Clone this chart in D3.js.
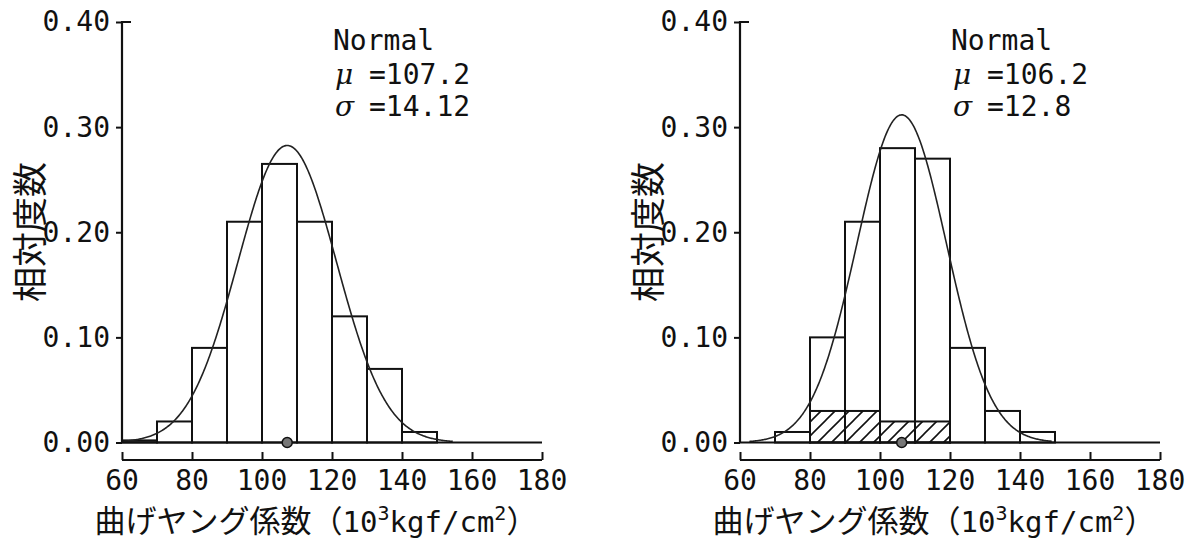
<!DOCTYPE html>
<html>
<head>
<meta charset="utf-8">
<script src="https://cdn.jsdelivr.net/npm/d3@7"></script>
<style>
  body { margin: 0; background: #fff; }
  svg { display: block; }
</style>
</head>
<body>
<svg id="chart" width="1204" height="542"></svg>
<script>
// Histogram bins (lower edge, width 10) and relative frequencies
const binStarts = [60, 70, 80, 90, 100, 110, 120, 130, 140];
const freqLeft  = [0.002, 0.02, 0.09, 0.21, 0.265, 0.21, 0.12, 0.07, 0.01];
const freqRight = [0.0, 0.01, 0.10, 0.21, 0.28, 0.27, 0.09, 0.03, 0.01];
// Hatched sub-bars on the right panel
const hatchStarts = [80, 90, 100, 110];
const hatchRight  = [0.03, 0.03, 0.02, 0.02];
// Fitted normal parameters
const muValues    = [107.2, 106.2];
const sigmaValues = [14.12, 12.8];
const muLabels    = ["107.2", "106.2"];
const sigmaLabels = ["14.12", "12.8"];
// Axis ticks
const xTicks = [60, 80, 100, 120, 140, 160, 180];
const yTicks = [0.0, 0.1, 0.2, 0.3, 0.4];
const yTickLabels = ["0.00", "0.10", "0.20", "0.30", "0.40"];
const binWidth = 10;

const svg = d3.select("#chart");
const ink = "#111";
const monoFont = "'DejaVu Sans Mono', 'Liberation Mono', monospace";
const cjkFont = "'Noto Sans CJK JP', 'Noto Sans CJK SC', sans-serif";

// diagonal hatch pattern
const defs = svg.append("defs");
defs.append("pattern")
  .attr("id", "hatch")
  .attr("patternUnits", "userSpaceOnUse")
  .attr("width", 14).attr("height", 14)
  .append("path")
  .attr("d", "M0,14 L14,0 M-4,4 L4,-4 M10,18 L18,10")
  .attr("stroke", ink).attr("stroke-width", 1.6);

const panels = [
  { left: 122, freq: freqLeft, hatch: null, mu: muValues[0], sigma: sigmaValues[0],
    muText: muLabels[0], sigmaText: sigmaLabels[0] },
  { left: 740, freq: freqRight, hatch: hatchRight, mu: muValues[1], sigma: sigmaValues[1],
    muText: muLabels[1], sigmaText: sigmaLabels[1] }
];

const plotW = 420, plotTop = 22, plotBase = 442.5, axisY = 460;

panels.forEach(p => {
  const g = svg.append("g");
  const x = d3.scaleLinear().domain([60, 180]).range([p.left, p.left + plotW]);
  const y = d3.scaleLinear().domain([0, 0.4]).range([plotBase, plotTop]);

  // bars
  g.selectAll("rect.bar")
    .data(binStarts.map((b, i) => ({ b, v: p.freq[i] })).filter(d => d.v > 0))
    .join("rect")
    .attr("class", "bar")
    .attr("x", d => x(d.b))
    .attr("width", d => x(d.b + binWidth) - x(d.b))
    .attr("y", d => y(d.v))
    .attr("height", d => y(0) - y(d.v))
    .attr("fill", "none")
    .attr("stroke", ink)
    .attr("stroke-width", 2);

  // hatched sub-bars
  if (p.hatch) {
    g.selectAll("rect.hatch")
      .data(hatchStarts.map((b, i) => ({ b, v: p.hatch[i] })))
      .join("rect")
      .attr("class", "hatch")
      .attr("x", d => x(d.b))
      .attr("width", d => x(d.b + binWidth) - x(d.b))
      .attr("y", d => y(d.v))
      .attr("height", d => y(0) - y(d.v))
      .attr("fill", "url(#hatch)")
      .attr("stroke", ink)
      .attr("stroke-width", 2);
  }

  // fitted normal curve, scaled to bin width
  const lo = Math.max(60, p.mu - 3.4 * p.sigma), hi = p.mu + 3.35 * p.sigma;
  const pts = d3.range(lo, hi, 0.25).concat([hi]).map(v => {
    const z = (v - p.mu) / p.sigma;
    return [v, binWidth * Math.exp(-0.5 * z * z) / (p.sigma * Math.sqrt(2 * Math.PI))];
  });
  g.append("path")
    .datum(pts)
    .attr("d", d3.line().x(d => x(d[0])).y(d => y(d[1])))
    .attr("fill", "none")
    .attr("stroke", "#222")
    .attr("stroke-width", 1.6);

  // zero line
  g.append("line")
    .attr("x1", x(60)).attr("x2", x(180))
    .attr("y1", y(0)).attr("y2", y(0))
    .attr("stroke", ink).attr("stroke-width", 2.2);

  // y axis
  const yAxis = d3.axisLeft(y).tickValues(yTicks).tickSize(6).tickFormat((d, i) => yTickLabels[i]).tickPadding(6);
  const ya = g.append("g").attr("transform", `translate(${p.left},0)`).call(yAxis);
  ya.select(".domain").remove();
  ya.selectAll(".tick line").attr("stroke", ink).attr("stroke-width", 2);
  ya.selectAll(".tick text")
    .attr("font-family", monoFont).attr("font-size", 28).attr("fill", ink);
  g.append("path")
    .attr("d", `M${p.left + 9},${y(0.4)} H${p.left} V${y(0)}`)
    .attr("fill", "none").attr("stroke", ink).attr("stroke-width", 2.2);

  // x axis (separate line below with upward ticks)
  const xAxis = d3.axisTop(x).tickValues(xTicks).tickSize(8).tickFormat("");
  const xa = g.append("g").attr("transform", `translate(0,${axisY})`).call(xAxis);
  xa.select(".domain").attr("d", `M${x(60)},0H${x(180)}`).attr("stroke", ink).attr("stroke-width", 2.2);
  xa.selectAll(".tick line").attr("stroke", ink).attr("stroke-width", 2);
  g.selectAll("text.xl")
    .data(xTicks)
    .join("text")
    .attr("class", "xl")
    .attr("x", d => x(d))
    .attr("y", 490)
    .attr("text-anchor", "middle")
    .attr("font-family", monoFont).attr("font-size", 28).attr("fill", ink)
    .text(d => d);

  // mean marker
  g.append("circle")
    .attr("cx", x(p.mu)).attr("cy", y(0)).attr("r", 5)
    .attr("fill", "#777").attr("stroke", ink).attr("stroke-width", 1.5);

  // axis titles
  g.append("text")
    .attr("transform", `translate(${p.left - 95},232) rotate(-90)`)
    .attr("text-anchor", "middle").attr("dominant-baseline", "central")
    .attr("font-family", cjkFont).attr("font-size", 35).attr("fill", ink)
    .text("相対度数");

  const xt = g.append("text")
    .attr("x", p.left + 194).attr("y", 532)
    .attr("text-anchor", "middle")
    .attr("font-family", cjkFont).attr("font-size", 31).attr("fill", ink);
  xt.append("tspan").text("曲げヤング係数（");
  xt.append("tspan").attr("font-family", monoFont).attr("font-size", 29).text("10");
  xt.append("tspan").attr("font-family", monoFont).attr("font-size", 20).attr("dy", -12).text("3");
  xt.append("tspan").attr("font-family", monoFont).attr("font-size", 29).attr("dy", 12).text("kgf/cm");
  xt.append("tspan").attr("font-family", monoFont).attr("font-size", 20).attr("dy", -12).text("2");
  xt.append("tspan").attr("dy", 12).text("）");

  // fit annotation
  const ax = p.left + 211;
  g.append("text").attr("x", ax).attr("y", 50)
    .attr("font-family", monoFont).attr("font-size", 28).attr("fill", ink)
    .text("Normal");
  const mu = g.append("text").attr("x", ax + 2).attr("y", 84)
    .attr("font-family", monoFont).attr("font-size", 28).attr("fill", ink);
  mu.append("tspan").attr("font-style", "italic").attr("font-family", "'DejaVu Serif', serif").text("μ");
  mu.append("tspan").attr("x", ax + 36).text("=" + p.muText);
  const sg = g.append("text").attr("x", ax + 2).attr("y", 116)
    .attr("font-family", monoFont).attr("font-size", 28).attr("fill", ink);
  sg.append("tspan").attr("font-style", "italic").attr("font-family", "'DejaVu Serif', serif").text("σ");
  sg.append("tspan").attr("x", ax + 36).text("=" + p.sigmaText);
});
</script>
</body>
</html>
